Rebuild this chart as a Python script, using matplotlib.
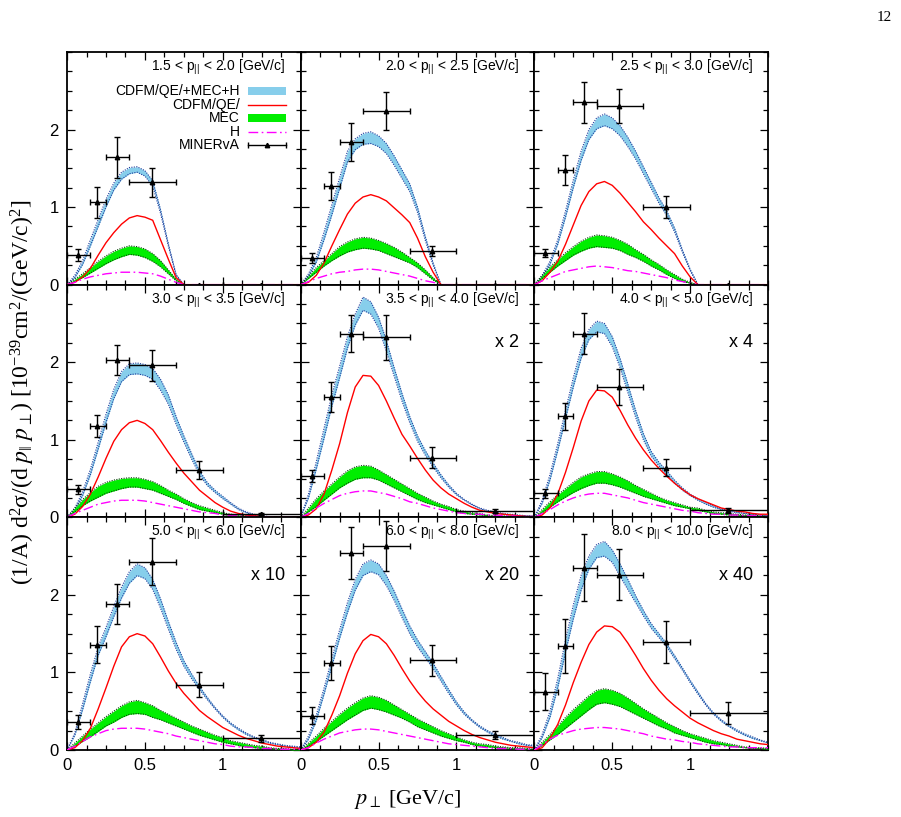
import matplotlib
matplotlib.use("Agg")
import matplotlib.pyplot as plt
from matplotlib.ticker import MultipleLocator
from matplotlib.patches import Rectangle
from matplotlib.lines import Line2D

# ---------------- data ----------------
# transverse momentum grid (GeV/c)
p_perp = [0.00, 0.05, 0.10, 0.15, 0.20, 0.25, 0.30, 0.35, 0.40, 0.45, 0.50,
          0.55, 0.60, 0.65, 0.70, 0.75, 0.80, 0.85, 0.90, 0.95, 1.00, 1.05,
          1.10, 1.15, 1.20, 1.25, 1.30, 1.35, 1.40, 1.45, 1.50]

panel_labels = ["1.5 < p$_{||}$ < 2.0 [GeV/c]", "2.0 < p$_{||}$ < 2.5 [GeV/c]",
                "2.5 < p$_{||}$ < 3.0 [GeV/c]", "3.0 < p$_{||}$ < 3.5 [GeV/c]",
                "3.5 < p$_{||}$ < 4.0 [GeV/c]", "4.0 < p$_{||}$ < 5.0 [GeV/c]",
                "5.0 < p$_{||}$ < 6.0 [GeV/c]", "6.0 < p$_{||}$ < 8.0 [GeV/c]",
                "8.0 < p$_{||}$ < 10.0 [GeV/c]"]
scale_labels = ["", "", "", "", "x 2", "x 4", "x 10", "x 20", "x 40"]

# MINERvA bins
data_x = [0.07, 0.195, 0.32, 0.545, 0.845, 1.245]
bin_lo = [0.0, 0.15, 0.25, 0.40, 0.70, 1.00]
bin_hi = [0.15, 0.25, 0.40, 0.70, 1.00, 2.50]

# panel 1 : 1.5 < p|| < 2.0
p1_tot_hi = [0, .12, .31, .58, .84, 1.1, 1.31, 1.45, 1.51, 1.52, 1.47, 1.34, .97, .53, .13, 0, 0, 0, 0, 0, 0, 0, 0, 0, 0, 0, 0, 0, 0, 0, 0]
p1_tot_lo = [0, .09, .26, .5, .75, 1.0, 1.22, 1.36, 1.43, 1.45, 1.4, 1.27, .92, .5, .12, 0, 0, 0, 0, 0, 0, 0, 0, 0, 0, 0, 0, 0, 0, 0, 0]
p1_qe = [0, .03, .1, .21, .38, .54, .67, .78, .86, .89, .87, .83, .58, .33, .09, 0, 0, 0, 0, 0, 0, 0, 0, 0, 0, 0, 0, 0, 0, 0, 0]
p1_mec_hi = [0, .07, .14, .22, .30, .37, .43, .47, .50, .49, .46, .40, .31, .19, .07, 0, 0, 0, 0, 0, 0, 0, 0, 0, 0, 0, 0, 0, 0, 0, 0]
p1_mec_lo = [0, .04, .09, .15, .21, .27, .32, .36, .39, .38, .35, .30, .23, .14, .05, 0, 0, 0, 0, 0, 0, 0, 0, 0, 0, 0, 0, 0, 0, 0, 0]
p1_h = [0, .03, .07, .10, .12, .14, .15, .16, .16, .16, .15, .14, .11, .07, .03, 0, 0, 0, 0, 0, 0, 0, 0, 0, 0, 0, 0, 0, 0, 0, 0]
p1_y = [.38, 1.06, 1.64, 1.32, 0, 0]
p1_err = [.08, .2, .26, .19, 0, 0]

# panel 2 : 2.0 < p|| < 2.5
p2_tot_hi = [0, .14, .35, .68, 1.03, 1.38, 1.72, 1.88, 1.95, 1.97, 1.92, 1.82, 1.66, 1.48, 1.3, 1.0, .62, .28, 0, 0, 0, 0, 0, 0, 0, 0, 0, 0, 0, 0, 0]
p2_tot_lo = [0, .11, .29, .58, .9, 1.24, 1.58, 1.74, 1.81, 1.82, 1.78, 1.69, 1.54, 1.37, 1.2, .93, .57, .25, 0, 0, 0, 0, 0, 0, 0, 0, 0, 0, 0, 0, 0]
p2_qe = [0, .03, .12, .28, .5, .71, .91, 1.05, 1.13, 1.16, 1.13, 1.08, .99, .9, .8, .6, .36, .16, 0, 0, 0, 0, 0, 0, 0, 0, 0, 0, 0, 0, 0]
p2_mec_hi = [0, .11, .22, .31, .40, .49, .55, .59, .61, .60, .57, .53, .48, .42, .35, .28, .19, .09, 0, 0, 0, 0, 0, 0, 0, 0, 0, 0, 0, 0, 0]
p2_mec_lo = [0, .08, .16, .24, .31, .37, .42, .45, .47, .46, .44, .40, .36, .32, .28, .22, .14, .06, 0, 0, 0, 0, 0, 0, 0, 0, 0, 0, 0, 0, 0]
p2_h = [0, .04, .08, .11, .14, .16, .17, .19, .2, .2, .19, .17, .15, .13, .11, .08, .05, .03, 0, 0, 0, 0, 0, 0, 0, 0, 0, 0, 0, 0, 0]
p2_y = [.34, 1.27, 1.84, 2.24, .43, 0]
p2_err = [.065, .18, .25, .24, .065, 0]

# panel 3 : 2.5 < p|| < 3.0
p3_tot_hi = [0, .12, .3, .58, .95, 1.35, 1.72, 2.0, 2.15, 2.2, 2.15, 2.05, 1.9, 1.72, 1.52, 1.32, 1.12, .95, .73, .45, .2, 0, 0, 0, 0, 0, 0, 0, 0, 0, 0]
p3_tot_lo = [0, .1, .26, .52, .87, 1.25, 1.6, 1.87, 2.01, 2.05, 2.01, 1.92, 1.78, 1.62, 1.43, 1.24, 1.05, .89, .68, .42, .18, 0, 0, 0, 0, 0, 0, 0, 0, 0, 0]
p3_qe = [0, .05, .16, .3, .52, .77, 1.02, 1.2, 1.3, 1.33, 1.28, 1.18, 1.06, .94, .81, .71, .6, .5, .4, .24, .1, 0, 0, 0, 0, 0, 0, 0, 0, 0, 0]
p3_mec_hi = [0, .12, .23, .32, .41, .49, .56, .61, .64, .63, .61, .57, .52, .45, .39, .32, .26, .19, .13, .07, .03, 0, 0, 0, 0, 0, 0, 0, 0, 0, 0]
p3_mec_lo = [0, .08, .16, .24, .31, .38, .43, .47, .49, .48, .47, .44, .39, .35, .3, .24, .19, .13, .08, .04, .02, 0, 0, 0, 0, 0, 0, 0, 0, 0, 0]
p3_h = [0, .05, .09, .13, .17, .19, .21, .23, .24, .23, .22, .2, .18, .17, .15, .13, .11, .09, .06, .04, .02, 0, 0, 0, 0, 0, 0, 0, 0, 0, 0]
p3_y = [.41, 1.48, 2.35, 2.30, 1.0, 0]
p3_err = [.055, .19, .26, .22, .14, 0]

# panel 4 : 3.0 < p|| < 3.5
p4_tot_hi = [0, .12, .33, .62, .97, 1.33, 1.65, 1.88, 1.98, 1.99, 1.97, 1.92, 1.78, 1.58, 1.3, 1.05, .82, .6, .45, .35, .27, .19, .12, .07, .04, .02, .01, 0, 0, 0, 0]
p4_tot_lo = [0, .1, .28, .55, .88, 1.22, 1.53, 1.75, 1.84, 1.85, 1.83, 1.78, 1.64, 1.46, 1.2, .97, .75, .55, .41, .32, .24, .17, .1, .06, .03, .01, 0, 0, 0, 0, 0]
p4_qe = [0, .04, .14, .3, .52, .76, .98, 1.13, 1.22, 1.25, 1.21, 1.13, .99, .84, .7, .57, .46, .35, .27, .19, .13, .08, .05, .03, .02, .01, 0, 0, 0, 0, 0]
p4_mec_hi = [0, .12, .23, .32, .4, .45, .48, .5, .51, .51, .49, .46, .41, .35, .3, .24, .19, .15, .12, .09, .06, .04, .03, .02, .01, .01, 0, 0, 0, 0, 0]
p4_mec_lo = [0, .07, .15, .21, .26, .31, .34, .37, .39, .39, .37, .35, .31, .27, .23, .18, .14, .1, .08, .06, .04, .02, .01, .01, 0, 0, 0, 0, 0, 0, 0]
p4_h = [0, .05, .09, .13, .17, .19, .21, .22, .22, .22, .21, .19, .17, .15, .13, .11, .09, .07, .06, .05, .03, .02, .02, .01, .01, 0, 0, 0, 0, 0, 0]
p4_y = [.36, 1.18, 2.03, 1.96, .61, .04]
p4_err = [.055, .14, .19, .2, .11, .01]

# panel 5 : 3.5 < p|| < 4.0  (x 2)
p5_tot_hi = [0, .3, .72, 1.15, 1.58, 1.95, 2.33, 2.62, 2.84, 2.78, 2.58, 2.28, 1.93, 1.6, 1.3, 1.05, .86, .7, .55, .42, .31, .23, .17, .12, .09, .07, .05, .04, .03, .02, .02]
p5_tot_lo = [0, .25, .62, 1.02, 1.43, 1.8, 2.18, 2.48, 2.67, 2.62, 2.44, 2.14, 1.82, 1.5, 1.22, .98, .8, .65, .51, .39, .29, .22, .16, .11, .08, .06, .04, .03, .02, .02, .01]
p5_qe = [0, .03, .11, .3, .61, .95, 1.35, 1.68, 1.83, 1.82, 1.7, 1.5, 1.28, 1.07, .92, .76, .61, .48, .38, .3, .24, .18, .13, .09, .07, .05, .04, .03, .02, .01, .01]
p5_mec_hi = [0, .12, .24, .34, .43, .52, .6, .65, .67, .66, .61, .55, .49, .43, .37, .31, .26, .21, .17, .14, .1, .08, .06, .05, .03, .02, .02, .01, .01, 0, 0]
p5_mec_lo = [0, .07, .14, .22, .3, .38, .44, .49, .51, .51, .48, .43, .38, .33, .28, .23, .19, .16, .13, .1, .07, .05, .04, .03, .02, .01, .01, 0, 0, 0, 0]
p5_h = [0, .05, .12, .18, .23, .28, .31, .33, .34, .34, .32, .3, .27, .24, .2, .18, .15, .12, .1, .08, .06, .05, .04, .04, .03, .03, .02, .02, .01, .01, .01]
p5_y = [.53, 1.55, 2.37, 2.32, .77, .08]
p5_err = [.075, .19, .24, .29, .14, .03]

# panel 6 : 4.0 < p|| < 5.0  (x 4)
p6_tot_hi = [0, .22, .55, .95, 1.38, 1.8, 2.18, 2.42, 2.53, 2.5, 2.33, 2.05, 1.72, 1.38, 1.08, .85, .71, .6, .48, .38, .3, .24, .19, .15, .11, .09, .07, .05, .04, .03, .03]
p6_tot_lo = [0, .18, .48, .86, 1.27, 1.68, 2.05, 2.29, 2.39, 2.37, 2.2, 1.93, 1.61, 1.29, 1.0, .79, .66, .55, .44, .35, .28, .22, .17, .13, .1, .08, .06, .05, .04, .03, .02]
p6_qe = [0, .03, .12, .3, .58, .9, 1.24, 1.5, 1.64, 1.63, 1.55, 1.38, 1.19, 1.02, .87, .74, .63, .53, .44, .36, .29, .24, .2, .16, .12, .1, .08, .07, .05, .04, .04]
p6_mec_hi = [0, .1, .2, .29, .37, .45, .52, .56, .59, .59, .56, .52, .47, .41, .36, .31, .26, .22, .19, .16, .13, .12, .09, .07, .06, .05, .04, .03, .03, .02, .02]
p6_mec_lo = [0, .06, .13, .2, .26, .32, .37, .41, .44, .44, .42, .39, .35, .31, .27, .24, .21, .18, .15, .13, .11, .09, .07, .05, .04, .03, .03, .02, .02, .01, .01]
p6_h = [0, .05, .1, .16, .21, .25, .28, .3, .31, .31, .29, .27, .25, .22, .19, .17, .15, .13, .11, .09, .08, .06, .05, .04, .04, .03, .03, .02, .02, .02, .01]
p6_y = [.31, 1.3, 2.37, 1.68, .64, .09]
p6_err = [.055, .17, .26, .23, .11, .03]

# panel 7 : 5.0 < p|| < 6.0  (x 10)
p7_tot_hi = [0, .22, .6, .98, 1.33, 1.58, 1.85, 2.1, 2.3, 2.4, 2.35, 2.2, 1.95, 1.66, 1.39, 1.15, .98, .82, .68, .55, .44, .35, .28, .22, .17, .14, .1, .08, .06, .05, .04]
p7_tot_lo = [0, .19, .52, .88, 1.22, 1.46, 1.72, 1.96, 2.15, 2.25, 2.21, 2.07, 1.83, 1.56, 1.3, 1.08, .92, .78, .65, .53, .42, .33, .26, .2, .16, .12, .09, .07, .05, .04, .03]
p7_qe = [0, .03, .12, .28, .53, .8, 1.08, 1.33, 1.46, 1.5, 1.47, 1.37, 1.2, 1.02, .86, .73, .62, .51, .43, .36, .29, .24, .19, .15, .12, .09, .07, .05, .04, .03, .02]
p7_mec_hi = [0, .09, .18, .27, .35, .43, .5, .57, .62, .64, .61, .57, .51, .46, .41, .36, .31, .27, .23, .19, .16, .12, .1, .08, .06, .05, .03, .02, .02, .01, .01]
p7_mec_lo = [0, .05, .11, .17, .24, .31, .36, .42, .46, .47, .46, .42, .39, .35, .31, .27, .23, .19, .16, .13, .1, .08, .06, .04, .03, .02, .02, .01, .01, 0, 0]
p7_h = [0, .05, .11, .17, .21, .25, .27, .28, .28, .28, .27, .25, .23, .21, .18, .16, .14, .12, .1, .08, .07, .05, .04, .04, .03, .02, .02, .01, .01, .01, .01]
p7_y = [.36, 1.36, 1.88, 2.43, .84, .15]
p7_err = [.095, .24, .26, .3, .16, .045]

# panel 8 : 6.0 < p|| < 8.0  (x 20)
p8_tot_hi = [0, .18, .45, .8, 1.18, 1.55, 1.9, 2.2, 2.4, 2.45, 2.4, 2.25, 2.05, 1.82, 1.6, 1.42, 1.27, 1.12, .95, .78, .62, .49, .39, .31, .25, .2, .16, .12, .1, .07, .06]
p8_tot_lo = [0, .14, .38, .72, 1.08, 1.44, 1.77, 2.06, 2.25, 2.3, 2.26, 2.12, 1.93, 1.71, 1.5, 1.33, 1.19, 1.05, .89, .73, .58, .46, .37, .29, .23, .18, .14, .11, .08, .06, .05]
p8_qe = [0, .03, .1, .23, .45, .7, .99, 1.24, 1.41, 1.49, 1.46, 1.37, 1.22, 1.05, .89, .75, .63, .53, .45, .37, .31, .25, .2, .16, .13, .1, .08, .06, .05, .04, .03]
p8_mec_hi = [0, .09, .18, .28, .37, .46, .54, .61, .67, .7, .68, .64, .58, .52, .46, .4, .35, .3, .25, .21, .17, .13, .1, .08, .07, .05, .04, .03, .03, .02, .01]
p8_mec_lo = [0, .05, .11, .18, .25, .32, .39, .45, .51, .54, .52, .49, .45, .41, .36, .3, .26, .22, .18, .15, .12, .1, .07, .05, .04, .03, .03, .02, .01, .01, .01]
p8_h = [0, .03, .09, .14, .18, .22, .24, .26, .27, .27, .26, .24, .22, .2, .18, .16, .14, .12, .1, .08, .07, .06, .05, .04, .03, .02, .02, .02, .01, .01, .01]
p8_y = [.44, 1.12, 2.54, 2.63, 1.16, .19]
p8_err = [.11, .22, .33, .32, .2, .05]

# panel 9 : 8.0 < p|| < 10.0  (x 40)
p9_tot_hi = [0, .2, .5, .92, 1.42, 1.87, 2.25, 2.5, 2.65, 2.69, 2.58, 2.4, 2.2, 1.99, 1.8, 1.63, 1.5, 1.37, 1.22, 1.06, .9, .75, .6, .48, .39, .32, .26, .21, .17, .13, .1]
p9_tot_lo = [0, .16, .42, .8, 1.26, 1.69, 2.06, 2.33, 2.48, 2.5, 2.42, 2.24, 2.07, 1.9, 1.73, 1.57, 1.45, 1.33, 1.18, 1.03, .87, .72, .58, .46, .37, .3, .24, .19, .15, .12, .09]
p9_qe = [0, .03, .15, .33, .58, .87, 1.13, 1.36, 1.52, 1.6, 1.59, 1.52, 1.38, 1.22, 1.05, .9, .77, .66, .57, .49, .41, .35, .3, .25, .21, .18, .14, .12, .1, .08, .07]
p9_mec_hi = [0, .1, .2, .31, .42, .52, .61, .7, .77, .79, .77, .73, .67, .6, .53, .47, .41, .35, .3, .25, .21, .18, .15, .12, .1, .08, .06, .04, .03, .03, .02]
p9_mec_lo = [0, .06, .13, .2, .28, .36, .44, .52, .59, .61, .59, .56, .51, .46, .41, .36, .31, .27, .22, .19, .16, .13, .1, .08, .07, .05, .04, .03, .02, .02, .01]
p9_h = [0, .07, .14, .19, .22, .25, .27, .28, .29, .29, .28, .27, .25, .23, .21, .18, .16, .14, .13, .11, .1, .08, .07, .06, .05, .04, .04, .03, .03, .03, .03]
p9_y = [.75, 1.34, 2.35, 2.26, 1.39, .48]
p9_err = [.24, .35, .43, .33, .27, .14]

panels = [
    (p1_tot_lo, p1_tot_hi, p1_qe, p1_mec_lo, p1_mec_hi, p1_h, p1_y, p1_err),
    (p2_tot_lo, p2_tot_hi, p2_qe, p2_mec_lo, p2_mec_hi, p2_h, p2_y, p2_err),
    (p3_tot_lo, p3_tot_hi, p3_qe, p3_mec_lo, p3_mec_hi, p3_h, p3_y, p3_err),
    (p4_tot_lo, p4_tot_hi, p4_qe, p4_mec_lo, p4_mec_hi, p4_h, p4_y, p4_err),
    (p5_tot_lo, p5_tot_hi, p5_qe, p5_mec_lo, p5_mec_hi, p5_h, p5_y, p5_err),
    (p6_tot_lo, p6_tot_hi, p6_qe, p6_mec_lo, p6_mec_hi, p6_h, p6_y, p6_err),
    (p7_tot_lo, p7_tot_hi, p7_qe, p7_mec_lo, p7_mec_hi, p7_h, p7_y, p7_err),
    (p8_tot_lo, p8_tot_hi, p8_qe, p8_mec_lo, p8_mec_hi, p8_h, p8_y, p8_err),
    (p9_tot_lo, p9_tot_hi, p9_qe, p9_mec_lo, p9_mec_hi, p9_h, p9_y, p9_err),
]

# ---------------- style ----------------
SANS = "Liberation Sans"
SERIF = "Liberation Serif"
plt.rcParams["font.family"] = [SANS, "DejaVu Sans"]
plt.rcParams["mathtext.fontset"] = "custom"
plt.rcParams["mathtext.rm"] = SANS
plt.rcParams["mathtext.it"] = SANS
plt.rcParams["mathtext.default"] = "regular"

C_BAND = "#87ceeb"
C_BAND_EDGE = "#203c9c"
C_QE = "#ff0000"
C_MEC = "#00ee00"
C_MEC_EDGE = "#0b3d0b"
C_H = "#ff00ff"
H_DASH = (0, (7, 2.5, 1.2, 2.5))

fig = plt.figure(figsize=(9.01, 8.17), dpi=100)
axs = fig.subplots(3, 3, sharex=True, sharey=True,
                   gridspec_kw=dict(hspace=0, wspace=0))
fig.subplots_adjust(left=0.0744, right=0.8524, bottom=0.0820, top=0.9364)

xl = [x - lo for x, lo in zip(data_x, bin_lo)]
xr = [hi - x for x, hi in zip(data_x, bin_hi)]

for i, ax in enumerate(axs.flat):
    tlo, thi, qe, mlo, mhi, hh, yy, ee = panels[i]
    ax.fill_between(p_perp, tlo, thi, color=C_BAND, lw=0, zorder=1)
    ax.plot(p_perp, thi, color=C_BAND_EDGE, ls=(0, (1, 1.2)), lw=0.8, zorder=2)
    ax.plot(p_perp, tlo, color=C_BAND_EDGE, ls=(0, (1, 1.2)), lw=0.8, zorder=2)
    ax.fill_between(p_perp, mlo, mhi, color=C_MEC, lw=0, zorder=3)
    ax.plot(p_perp, mhi, color=C_MEC_EDGE, ls=(0, (1, 1.2)), lw=0.8, zorder=4)
    ax.plot(p_perp, mlo, color=C_MEC_EDGE, ls=(0, (1, 1.2)), lw=0.8, zorder=4)
    ax.plot(p_perp, qe, color=C_QE, lw=1.0, zorder=5)
    ax.plot(p_perp, hh, color=C_H, ls=H_DASH, lw=1.0, zorder=5)
    ax.errorbar(data_x, yy, xerr=[xl, xr], yerr=ee, fmt="^", ms=3.2,
                color="black", ecolor="black", elinewidth=1.0, capsize=2,
                capthick=1.0, zorder=6)

    ax.set_xlim(0, 1.5)
    ax.set_ylim(0, 3.0)
    ax.set_xticks([0, 0.5, 1.0])
    ax.set_yticks([0, 1, 2])
    ax.xaxis.set_minor_locator(MultipleLocator(0.125))
    ax.yaxis.set_minor_locator(MultipleLocator(0.25))
    ax.tick_params(which="both", direction="in", top=True, right=True,
                   width=0.9, labelsize=12, pad=6)
    ax.tick_params(which="major", length=6)
    ax.tick_params(which="minor", length=3.5)
    for s in ax.spines.values():
        s.set_linewidth(1.3)

    ax.text(0.937, 0.934, panel_labels[i], transform=ax.transAxes,
            ha="right", va="center", fontsize=10)
    if scale_labels[i]:
        ax.text(0.935, 0.75, scale_labels[i], transform=ax.transAxes,
                ha="right", va="center", fontsize=13)

for ax in axs[-1, :]:
    ax.set_xticklabels(["0", "0.5", "1"])
for ax in axs[:, 0]:
    ax.set_yticklabels(["0", "1", "2"])

# ---------------- legend (panel 1) ----------------
ax0 = axs[0, 0]
tr = ax0.transAxes
labels = ["CDFM/QE/+MEC+H", "CDFM/QE/", "MEC", "H", "MINERvA"]
rows = [0.832, 0.774, 0.716, 0.658, 0.600]
tx, sx0, sx1 = 0.740, 0.775, 0.937
for lab, yr in zip(labels, rows):
    ax0.text(tx, yr, lab, transform=tr, ha="right", va="center", fontsize=10)
ax0.add_patch(Rectangle((sx0, rows[0] - 0.017), sx1 - sx0, 0.034,
                        transform=tr, color=C_BAND, lw=0, clip_on=False))
ax0.add_line(Line2D([sx0, sx1], [rows[1]] * 2, transform=tr, color=C_QE, lw=1.0))
ax0.add_patch(Rectangle((sx0, rows[2] - 0.016), sx1 - sx0, 0.032,
                        transform=tr, color=C_MEC, lw=0, clip_on=False))
ax0.add_line(Line2D([sx0, sx1], [rows[3]] * 2, transform=tr, color=C_H,
                    ls=H_DASH, lw=1.0))
ax0.add_line(Line2D([sx0, sx1], [rows[4]] * 2, transform=tr, color="black", lw=1.0))
ax0.add_line(Line2D([sx0, sx1], [rows[4]] * 2, transform=tr, color="black",
                    lw=0, marker="|", ms=4))
ax0.add_line(Line2D([(sx0 + sx1) / 2], [rows[4]], transform=tr, color="black",
                    lw=0, marker="^", ms=3.2))

# ---------------- axis labels ----------------
fig.text(0.025, 0.52,
         "(1/A) d$^2$σ/(d $\\mathit{p}_{\\|}$ $\\mathit{p}_{\\perp}$) "
         "[10$^{-39}$cm$^2$/(GeV/c)$^2$]",
         rotation=90, ha="center", va="center", fontsize=17,
         family=[SERIF, "DejaVu Serif"], math_fontfamily="stix")
fig.text(0.453, 0.021, "$\\mathit{p}_{\\perp}$ [GeV/c]", ha="center",
         va="center", fontsize=16, family=[SERIF, "DejaVu Serif"],
         math_fontfamily="stix")
fig.text(0.982, 0.978, "12", ha="center", va="center", fontsize=11,
         family=[SERIF, "DejaVu Serif"])

fig.savefig("out.png", dpi=100)
